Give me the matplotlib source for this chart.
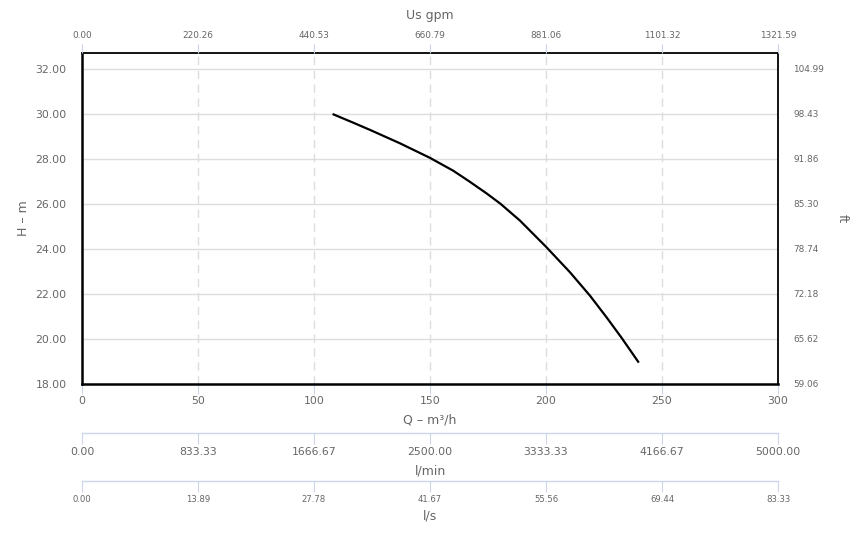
import matplotlib
matplotlib.use("Agg")
import matplotlib.pyplot as plt
import numpy as np

# data
flow_m3h = [108, 117, 124, 137, 150, 160, 167, 174.4, 180.5, 188.8, 200, 210.3, 219, 226.2, 232.6, 240]
head_m = [30.0, 29.61, 29.3, 28.70, 28.05, 27.48, 27.0, 26.47, 26.0, 25.26, 24.1, 22.97, 21.92, 20.95, 20.05, 18.95]
q_ticks = [0, 50, 100, 150, 200, 250, 300]
h_ticks = [18, 20, 22, 24, 26, 28, 30, 32]
GPM_PER_M3H = 4.40529
FT_PER_M = 3.28084
LMIN_PER_M3H = 1000 / 60
LS_PER_M3H = 1 / 3.6

W, H = 856, 543
plt.rcParams['font.family'] = ['DejaVu Sans']
fig = plt.figure(figsize=(W / 100, H / 100), dpi=100)
TXT = '#666666'
AX = '#ccd6eb'
GRID = '#dddddd'
TITLE = 9

L, R, T, B = 82, 778, 53, 384
def fx(px): return px / W
def fy(py): return 1 - py / H

ax = fig.add_axes([fx(L), fy(B), (R - L) / W, (B - T) / H])
ax.plot(flow_m3h, head_m, color='black', lw=1.6, solid_capstyle='butt', solid_joinstyle='round')
ax.set_xlim(0, 300)
ymax = 18 + (B - T) / 22.5
ax.set_ylim(18, ymax)
ax.set_xticks(q_ticks)
ax.set_yticks(h_ticks)
ax.set_yticklabels([f"{v:.2f}" for v in h_ticks])
for v in h_ticks[1:]:
    ax.axhline(v, color=GRID, lw=1, zorder=0)
for v in q_ticks[1:-1]:
    ax.axvline(v, color=GRID, lw=1, ls=(0, (6, 4)), zorder=0)
for s in ['left', 'bottom']:
    ax.spines[s].set_linewidth(1.8)
for s in ['top', 'right']:
    ax.spines[s].set_linewidth(1.3)
ax.tick_params(axis='y', length=0, pad=11, labelsize=7.8, labelcolor=TXT)
ax.tick_params(axis='x', length=7, color=AX, pad=2, labelsize=7.8, labelcolor=TXT)
ax.set_xlabel("Q – m³/h", color=TXT, fontsize=TITLE, labelpad=5)
ax.set_ylabel("H – m", color=TXT, fontsize=TITLE, labelpad=4)

# right axis in ft
axr = ax.twinx()
axr.set_ylim(18, ymax)
axr.set_yticks(h_ticks)
axr.set_yticklabels([f"{v * FT_PER_M:.2f}" for v in h_ticks])
axr.tick_params(axis='y', length=0, pad=11, labelsize=6.4, labelcolor=TXT)
axr.set_ylabel("ft", color=TXT, fontsize=TITLE, labelpad=8, rotation=270, va='bottom')
for s in axr.spines.values():
    s.set_visible(False)

# top axis gpm
axt = ax.twiny()
axt.set_xlim(0, 300)
axt.set_xticks(q_ticks)
axt.set_xticklabels([f"{v * GPM_PER_M3H:.2f}" for v in q_ticks])
axt.tick_params(axis='x', length=6.5, color=AX, pad=2.7, labelsize=6.4, labelcolor=TXT)
axt.set_xlabel("Us gpm", color=TXT, fontsize=TITLE, labelpad=8.8)
for s in axt.spines.values():
    s.set_visible(False)

def extra_axis(ypx, factor, label, lsize, title_y):
    a = fig.add_axes([fx(L), fy(ypx), (R - L) / W, 0.0001])
    a.set_xlim(0, 300)
    a.set_xticks(q_ticks)
    a.set_xticklabels([f"{v * factor:.2f}" for v in q_ticks])
    a.set_yticks([])
    for s in ['left', 'right', 'top']:
        a.spines[s].set_visible(False)
    a.spines['bottom'].set_color(AX)
    a.spines['bottom'].set_linewidth(1)
    a.tick_params(axis='x', length=8, color=AX, pad=2, labelsize=lsize, labelcolor=TXT)
    a.patch.set_visible(False)
    fig.text(fx((L + R) / 2), fy(title_y), label, color=TXT, fontsize=TITLE,
             ha='center', va='center')

extra_axis(433, LMIN_PER_M3H, "l/min", 7.8, 471)
extra_axis(481, LS_PER_M3H, "l/s", 6.1, 516)

fig.savefig("out.png", dpi=100)
